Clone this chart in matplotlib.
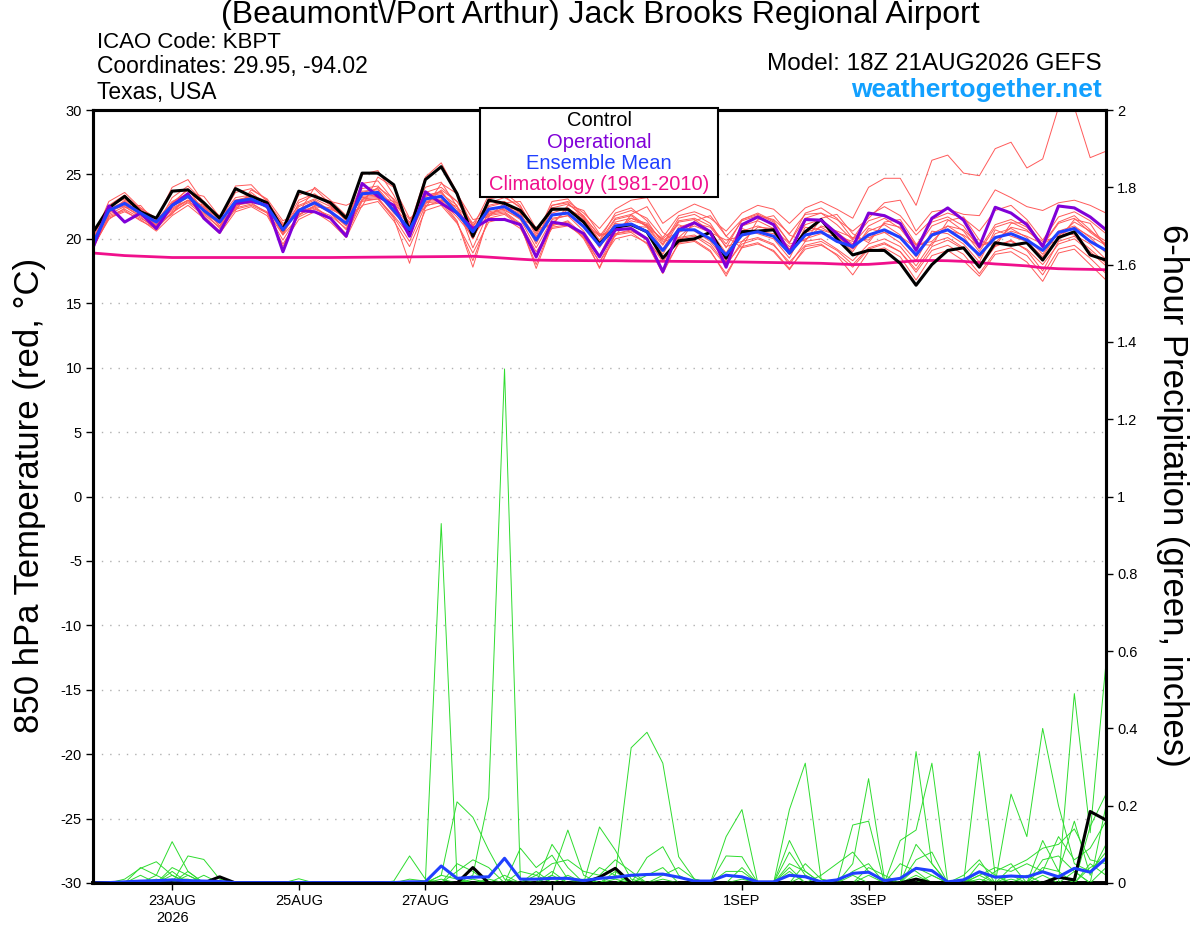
import numpy as np
import pandas as pd
import matplotlib
matplotlib.use("Agg")
import matplotlib.pyplot as plt
import matplotlib.dates as mdates
from matplotlib.patches import Rectangle

plt.rcParams['font.family'] = ['Liberation Sans', 'DejaVu Sans']
plt.rcParams['axes.unicode_minus'] = False

# 6-hourly steps from the 18Z 21 Aug 2026 run
times = pd.date_range('2026-08-21 18:00', periods=65, freq='6h')

# 850 hPa temperature (C)
ctrl_t = [20.5, 22.4, 23.3, 22.1, 21.6, 23.7, 23.8, 22.8, 21.6, 23.9, 23.3, 22.8, 20.7, 23.7, 23.3, 22.8,
          21.6, 25.1, 25.1, 24.2, 20.6, 24.6, 25.6, 23.5, 20.2, 23.0, 22.75, 22.2, 20.7, 22.3, 22.3, 21.3,
          19.6, 20.9, 21.1, 20.55, 18.5, 19.85, 20.0, 20.5, 18.5, 20.55, 20.6, 20.7, 18.9, 20.55, 21.5, 20.0,
          18.75, 19.1, 19.1, 18.1, 16.4, 18.0, 19.1, 19.3, 17.8, 19.7, 19.5, 19.7, 18.35, 20.1, 20.55, 18.75,
          18.35]
oper_t = [19.3, 22.55, 21.3, 22.0, 20.8, 22.6, 23.5, 21.6, 20.5, 22.75, 22.9, 22.6, 19.0, 22.2, 22.1, 21.6,
          20.2, 24.3, 23.3, 22.6, 20.2, 23.65, 22.75, 22.0, 20.8, 21.5, 21.5, 21.1, 18.6, 21.3, 21.1, 20.4,
          18.6, 20.7, 20.8, 20.0, 17.45, 20.7, 21.25, 20.55, 17.8, 21.1, 21.7, 21.1, 18.9, 21.5, 21.45, 20.4,
          19.35, 22.0, 21.8, 21.2, 19.1, 21.6, 22.4, 21.45, 19.4, 22.45, 22.0, 21.1, 19.4, 22.55, 22.4, 21.7,
          20.7]
mean_t = [19.65, 22.2, 22.75, 22.0, 21.3, 22.6, 23.3, 22.2, 21.3, 22.9, 23.1, 22.5, 20.7, 22.2, 22.8, 22.1,
          21.2, 23.5, 23.6, 22.2, 20.7, 23.1, 23.3, 22.0, 20.55, 22.3, 22.5, 21.7, 19.9, 21.85, 22.0, 20.95,
          19.5, 21.0, 21.15, 20.55, 19.1, 20.7, 20.7, 20.0, 18.75, 20.3, 20.55, 20.2, 18.9, 20.3, 20.55, 19.8,
          19.4, 20.3, 20.7, 20.1, 18.75, 20.3, 20.7, 19.9, 18.75, 20.1, 20.4, 19.9, 19.1, 20.5, 20.8, 19.8,
          19.1]
clim_t = [18.9, 18.8, 18.7, 18.65, 18.6, 18.55, 18.55, 18.55, 18.55, 18.55, 18.55, 18.55, 18.55, 18.55, 18.55, 18.55,
          18.56, 18.57, 18.58, 18.59, 18.6, 18.61, 18.62, 18.63, 18.65, 18.58, 18.5, 18.42, 18.35, 18.33, 18.32, 18.31,
          18.3, 18.3, 18.28, 18.27, 18.26, 18.25, 18.24, 18.23, 18.22, 18.2, 18.18, 18.16, 18.14, 18.12, 18.1, 18.05,
          18.0, 18.02, 18.1, 18.2, 18.3, 18.32, 18.3, 18.25, 18.15, 18.05, 17.98, 17.9, 17.75, 17.68, 17.65, 17.63,
          17.6]

members_t = [
    [19.8, 22.6, 23.4, 22.3, 21.0, 23.2, 24.1, 22.9, 21.5, 23.6, 23.9, 23.0, 20.9, 23.0, 23.5, 22.6,
     21.4, 24.3, 24.5, 23.0, 21.2, 24.0, 24.4, 22.5, 20.3, 23.1, 23.3, 22.4, 20.4, 22.6, 22.8, 21.6,
     19.8, 21.6, 21.9, 21.0, 19.2, 21.3, 21.5, 20.6, 18.9, 21.0, 21.4, 20.8, 19.2, 21.1, 21.5, 20.5,
     19.6, 21.0, 21.6, 20.8, 19.2, 21.0, 21.5, 20.6, 19.0, 20.9, 21.3, 20.7, 19.5, 21.2, 21.6, 20.5, 19.6],
    [19.3, 21.6, 22.1, 21.5, 20.6, 21.8, 22.6, 21.6, 20.4, 22.1, 22.5, 21.8, 19.6, 21.5, 22.1, 21.3,
     20.1, 22.6, 22.9, 21.4, 19.4, 22.2, 22.6, 21.2, 18.9, 21.3, 21.6, 20.8, 18.6, 20.9, 21.1, 20.1,
     18.2, 20.0, 20.3, 19.7, 17.6, 19.6, 19.8, 19.0, 17.3, 19.3, 19.6, 19.1, 17.7, 19.2, 19.5, 18.8,
     17.8, 19.2, 19.6, 19.0, 17.4, 19.1, 19.5, 18.8, 17.3, 19.0, 19.3, 18.7, 17.2, 19.2, 19.5, 18.5, 17.3],
    [19.7, 22.0, 23.0, 22.4, 21.6, 22.3, 23.0, 22.5, 21.0, 22.5, 23.4, 22.9, 21.2, 21.8, 22.6, 22.4,
     21.6, 23.0, 24.0, 23.1, 21.5, 22.7, 23.8, 22.9, 21.0, 21.9, 22.4, 22.3, 20.6, 21.2, 22.3, 21.7,
     20.3, 20.6, 21.6, 21.2, 19.8, 20.1, 21.2, 20.9, 19.4, 19.8, 20.9, 20.8, 19.6, 19.9, 21.0, 20.6,
     20.1, 19.9, 21.2, 20.9, 19.5, 19.8, 21.0, 20.7, 19.5, 19.7, 20.9, 20.6, 19.8, 20.2, 21.3, 20.6, 19.8],
    [19.6, 22.3, 22.9, 22.0, 21.4, 22.9, 23.5, 22.4, 21.6, 23.2, 23.4, 22.7, 21.0, 22.6, 23.1, 22.5,
     21.5, 23.9, 24.1, 22.8, 21.3, 23.6, 24.0, 22.9, 21.2, 22.8, 23.2, 22.5, 20.6, 22.4, 22.7, 21.8,
     20.2, 21.8, 22.2, 21.6, 20.1, 21.8, 22.1, 21.6, 20.6, 22.0, 22.6, 22.3, 21.2, 22.4, 22.9, 22.3,
     21.6, 24.0, 24.7, 24.7, 22.6, 26.1, 26.5, 25.1, 24.9, 27.0, 27.5, 25.5, 26.2, 30.2, 30.2, 26.3, 26.8],
    [19.9, 22.5, 23.1, 22.2, 21.1, 22.8, 23.8, 22.6, 21.2, 23.0, 23.2, 22.6, 20.5, 22.5, 23.0, 22.2,
     21.0, 23.6, 23.9, 22.5, 20.4, 23.4, 23.6, 22.3, 20.0, 22.6, 22.9, 22.0, 19.6, 22.0, 22.4, 21.2,
     19.3, 21.3, 21.6, 21.0, 19.5, 21.4, 21.6, 21.0, 19.6, 21.4, 21.8, 21.5, 20.4, 21.9, 22.0, 21.5,
     20.6, 21.6, 22.8, 23.0, 20.6, 22.1, 22.3, 21.9, 21.8, 23.8, 23.2, 22.5, 22.2, 22.8, 23.0, 22.6, 22.0],
    [19.5, 21.9, 22.5, 21.8, 21.0, 22.4, 23.0, 21.9, 20.9, 22.6, 22.8, 22.0, 19.9, 21.9, 22.5, 21.6,
     20.4, 23.1, 23.2, 21.7, 19.8, 22.6, 22.8, 21.3, 18.3, 21.6, 21.9, 21.0, 18.0, 21.1, 21.3, 20.0,
     17.8, 20.3, 20.5, 19.6, 17.3, 19.7, 19.9, 19.1, 17.1, 19.4, 19.7, 19.0, 17.6, 19.4, 19.6, 18.7,
     17.2, 19.0, 19.3, 18.6, 16.8, 18.7, 19.1, 18.3, 17.1, 18.8, 19.0, 18.2, 16.7, 18.9, 19.2, 18.0, 16.8],
    [19.4, 21.5, 22.4, 22.6, 21.2, 21.9, 23.6, 23.3, 21.7, 22.2, 23.8, 23.1, 21.4, 22.0, 24.0, 23.0,
     21.8, 22.5, 24.8, 24.0, 21.6, 22.4, 24.3, 23.5, 21.5, 21.7, 22.8, 22.9, 20.8, 21.0, 22.6, 22.2,
     20.4, 20.2, 21.9, 22.5, 20.5, 19.6, 21.4, 21.8, 20.2, 19.3, 21.5, 21.8, 20.3, 19.8, 21.6, 21.9,
     20.4, 19.7, 21.3, 21.5, 19.6, 19.5, 21.4, 21.7, 19.9, 19.4, 21.2, 21.3, 19.4, 19.9, 21.5, 21.2, 19.3],
    [20.0, 22.9, 23.6, 22.4, 21.5, 24.0, 24.6, 22.8, 21.4, 24.1, 24.2, 22.9, 20.8, 23.4, 23.9, 22.7,
     21.5, 25.0, 25.3, 23.4, 21.0, 24.8, 25.9, 23.6, 20.9, 23.4, 23.6, 22.6, 20.2, 22.9, 23.1, 21.7,
     19.9, 22.0, 22.4, 21.4, 19.6, 21.6, 21.9, 21.2, 19.3, 21.5, 21.9, 21.3, 19.7, 21.6, 22.0, 21.1,
     19.9, 21.4, 21.8, 21.1, 19.5, 21.3, 21.7, 21.0, 19.2, 21.1, 21.5, 20.9, 19.6, 21.3, 21.8, 20.7, 19.5],
    [19.2, 21.8, 22.3, 21.6, 20.9, 22.1, 22.8, 21.8, 20.6, 22.3, 22.6, 22.0, 19.4, 21.9, 22.4, 21.6,
     20.3, 22.9, 23.1, 21.6, 18.1, 22.5, 23.0, 21.4, 17.8, 21.8, 22.0, 21.1, 17.7, 21.0, 21.4, 20.3,
     17.7, 20.4, 20.6, 20.0, 18.2, 20.0, 20.2, 19.4, 17.9, 19.8, 20.1, 19.6, 18.0, 19.8, 20.0, 19.2,
     18.3, 19.6, 20.0, 19.4, 17.9, 19.7, 20.1, 19.3, 17.8, 19.5, 19.8, 19.2, 18.0, 19.6, 20.0, 19.0, 17.9],
    [19.6, 22.1, 22.6, 21.9, 21.3, 22.5, 23.2, 22.3, 21.4, 22.8, 23.0, 22.4, 20.6, 22.3, 22.7, 22.0,
     21.0, 23.4, 23.5, 22.0, 20.9, 23.0, 23.1, 21.9, 20.4, 22.2, 22.6, 21.9, 20.1, 22.2, 22.4, 21.5,
     19.6, 21.5, 21.8, 20.9, 18.8, 20.9, 21.3, 20.4, 18.5, 20.6, 21.0, 20.6, 19.0, 20.5, 20.9, 20.2,
     19.2, 20.6, 21.1, 20.3, 18.6, 20.4, 21.0, 20.2, 18.5, 20.4, 20.8, 20.1, 18.8, 20.6, 21.0, 20.1, 18.9],
    [19.8, 22.4, 22.5, 21.7, 20.7, 22.7, 23.9, 22.1, 20.8, 22.4, 23.6, 22.6, 20.3, 22.8, 23.4, 22.9,
     22.6, 23.2, 23.3, 22.9, 20.2, 23.3, 23.5, 22.6, 19.3, 22.1, 22.3, 21.5, 19.3, 21.5, 21.8, 20.6,
     18.7, 21.2, 21.0, 20.9, 20.0, 21.1, 20.6, 19.8, 18.3, 20.8, 20.4, 20.0, 18.5, 20.9, 20.7, 20.3,
     19.0, 20.8, 20.5, 19.7, 18.3, 20.6, 20.4, 19.6, 18.2, 20.7, 20.2, 19.8, 18.6, 20.6, 20.3, 19.6, 18.4],
    [19.5, 22.0, 22.9, 22.3, 21.3, 22.2, 23.0, 22.6, 21.8, 22.7, 22.9, 22.6, 21.1, 22.1, 22.5, 22.3,
     21.7, 23.3, 23.4, 22.6, 21.0, 22.9, 23.0, 22.5, 21.1, 22.0, 22.2, 21.6, 20.9, 21.6, 21.8, 21.3,
     20.2, 20.8, 21.4, 21.1, 19.9, 20.5, 21.0, 20.5, 19.9, 20.2, 20.6, 20.4, 19.4, 20.0, 20.4, 20.2,
     19.8, 20.1, 20.5, 20.2, 19.3, 20.2, 20.7, 20.3, 19.4, 20.0, 20.6, 20.2, 19.6, 20.3, 20.9, 20.2, 19.5],
    [19.7, 22.2, 22.8, 22.1, 21.0, 22.6, 23.4, 22.3, 21.0, 23.0, 23.3, 22.4, 20.4, 22.3, 22.9, 22.0,
     20.7, 23.7, 23.8, 22.3, 20.5, 23.3, 23.7, 22.1, 20.0, 22.5, 22.8, 22.0, 19.8, 22.6, 22.9, 22.0,
     20.8, 22.3, 23.0, 23.2, 21.2, 22.1, 22.7, 22.2, 20.2, 21.5, 22.0, 21.4, 19.7, 22.0, 22.4, 21.6,
     20.0, 21.8, 22.5, 21.8, 20.3, 21.5, 22.0, 21.6, 20.6, 22.2, 22.6, 21.5, 19.9, 21.7, 22.1, 21.4, 20.4],
    [19.4, 21.7, 22.2, 21.4, 20.8, 22.0, 22.9, 22.0, 21.2, 22.4, 22.7, 22.1, 20.3, 21.7, 22.3, 21.8,
     20.8, 23.0, 23.1, 21.8, 20.3, 22.8, 22.9, 21.7, 20.2, 21.9, 22.1, 21.2, 19.0, 20.8, 21.0, 20.2,
     18.2, 20.4, 20.7, 19.9, 18.4, 20.1, 20.3, 19.6, 18.0, 19.6, 20.0, 19.5, 18.2, 19.5, 19.8, 19.1,
     18.0, 19.3, 19.7, 19.0, 17.6, 19.4, 19.9, 19.2, 17.8, 19.4, 19.9, 19.1, 17.5, 19.8, 20.2, 19.2, 18.1],
]

# 6-hour precipitation (inches)
ctrl_p = [0, 0, 0, 0, 0, 0, 0, 0, 0.016, 0, 0, 0, 0, 0, 0, 0,
          0, 0, 0, 0, 0, 0, 0, 0, 0.04, 0, 0, 0, 0, 0, 0, 0,
          0.015, 0.038, 0, 0, 0, 0, 0, 0, 0, 0, 0, 0, 0, 0, 0, 0,
          0, 0, 0, 0, 0.01, 0, 0, 0, 0, 0, 0, 0, 0, 0.015, 0.008, 0.185,
          0.163]
mean_p = [0, 0.001, 0.003, 0.005, 0.006, 0.008, 0.006, 0.005, 0.004, 0.001, 0.001, 0.001, 0.001, 0.001, 0.001, 0.001,
          0.001, 0.001, 0.001, 0.001, 0.003, 0.003, 0.044, 0.012, 0.015, 0.016, 0.064, 0.01, 0.01, 0.012, 0.012, 0.006,
          0.012, 0.015, 0.02, 0.022, 0.023, 0.015, 0.005, 0.005, 0.02, 0.016, 0.003, 0.003, 0.02, 0.016, 0.003, 0.008,
          0.025, 0.028, 0.006, 0.012, 0.038, 0.032, 0.003, 0.008, 0.029, 0.015, 0.018, 0.016, 0.029, 0.016, 0.038, 0.028,
          0.064]

members_p = [
    [0, 0, 0, 0.04, 0.02, 0.107, 0.03, 0, 0, 0, 0, 0, 0, 0, 0, 0,
     0, 0, 0, 0, 0.01, 0.005, 0.93, 0.01, 0, 0, 0, 0, 0, 0.02, 0.137, 0.02,
     0, 0, 0, 0, 0, 0, 0, 0, 0.12, 0.19, 0, 0, 0, 0, 0, 0,
     0.05, 0.27, 0.01, 0, 0, 0, 0, 0, 0.02, 0, 0.23, 0.12, 0.40, 0.20, 0.05, 0.03, 0.08],
    [0, 0, 0.01, 0.038, 0.055, 0.02, 0, 0, 0, 0, 0, 0, 0, 0, 0, 0,
     0, 0, 0, 0, 0, 0, 0, 0, 0.02, 0.22, 1.33, 0.01, 0, 0, 0, 0,
     0.145, 0.085, 0.01, 0, 0, 0, 0, 0, 0, 0, 0, 0, 0.19, 0.31, 0.01, 0,
     0, 0, 0, 0, 0.34, 0.05, 0, 0, 0.34, 0.02, 0, 0, 0, 0, 0.49, 0.13, 0.57],
    [0, 0, 0, 0, 0.02, 0, 0.07, 0.061, 0.01, 0, 0, 0, 0, 0, 0, 0,
     0, 0, 0, 0, 0, 0, 0.02, 0.21, 0.17, 0.085, 0.01, 0, 0, 0, 0, 0,
     0, 0.02, 0.35, 0.39, 0.31, 0.068, 0.01, 0, 0, 0, 0, 0, 0.11, 0.03, 0, 0,
     0, 0, 0, 0.11, 0.137, 0.31, 0, 0, 0, 0.03, 0.05, 0, 0, 0, 0, 0.146, 0.23],
    [0, 0, 0, 0.02, 0, 0.04, 0.02, 0, 0, 0, 0, 0, 0, 0.011, 0, 0,
     0, 0, 0, 0.005, 0.07, 0.01, 0, 0, 0, 0, 0, 0.09, 0.04, 0.072, 0.01, 0,
     0, 0, 0, 0.066, 0.094, 0.02, 0, 0, 0.07, 0.068, 0, 0, 0, 0, 0, 0,
     0.15, 0.16, 0, 0, 0, 0, 0, 0.02, 0.06, 0, 0, 0, 0.06, 0.07, 0.03, 0, 0.2],
    [0, 0, 0, 0, 0, 0.02, 0, 0.02, 0, 0, 0, 0, 0, 0, 0, 0,
     0, 0, 0, 0, 0, 0, 0, 0.03, 0.06, 0.04, 0, 0, 0.02, 0.05, 0.06, 0.03,
     0.02, 0.06, 0.03, 0, 0, 0, 0, 0, 0, 0.04, 0, 0, 0.08, 0.02, 0, 0,
     0.03, 0.05, 0, 0, 0.06, 0.08, 0, 0, 0.03, 0, 0.04, 0.06, 0.09, 0.10, 0.14, 0.06, 0.05],
    [0, 0, 0, 0, 0.01, 0, 0.02, 0, 0, 0, 0, 0, 0, 0, 0, 0,
     0, 0, 0, 0, 0, 0, 0.01, 0, 0.04, 0, 0.02, 0, 0, 0.1, 0.04, 0,
     0, 0.03, 0, 0, 0.02, 0.04, 0.01, 0, 0, 0, 0, 0, 0.03, 0, 0.02, 0.05,
     0.08, 0.03, 0, 0.05, 0.03, 0, 0, 0, 0.02, 0.04, 0.03, 0.05, 0.03, 0.12, 0.06, 0.09, 0.16],
    [0, 0, 0, 0, 0, 0.03, 0, 0, 0, 0, 0, 0, 0, 0, 0, 0,
     0, 0, 0, 0, 0, 0, 0, 0, 0, 0.01, 0, 0.03, 0.02, 0, 0, 0,
     0.04, 0.02, 0, 0, 0, 0, 0, 0, 0.03, 0.03, 0, 0, 0.05, 0.03, 0, 0,
     0, 0, 0, 0, 0.10, 0.05, 0, 0, 0.05, 0.02, 0, 0, 0.04, 0.03, 0, 0.05, 0.02],
    [0, 0, 0, 0, 0, 0, 0.03, 0, 0, 0, 0, 0, 0, 0, 0, 0,
     0, 0, 0, 0, 0, 0, 0, 0.05, 0.03, 0, 0, 0, 0, 0.03, 0, 0.01,
     0, 0, 0, 0.02, 0.04, 0, 0, 0, 0, 0, 0, 0, 0, 0.05, 0.01, 0,
     0, 0.04, 0.02, 0, 0, 0.02, 0, 0.01, 0, 0, 0.02, 0, 0.11, 0.03, 0.16, 0.02, 0.1],
    [0, 0, 0, 0, 0.005, 0, 0, 0, 0, 0, 0, 0, 0, 0, 0, 0,
     0, 0, 0, 0, 0, 0, 0.02, 0.01, 0, 0, 0, 0, 0.03, 0, 0.02, 0,
     0, 0, 0.02, 0, 0, 0, 0, 0, 0, 0.01, 0, 0, 0.04, 0, 0, 0,
     0.02, 0, 0, 0, 0.04, 0.02, 0, 0, 0, 0, 0.01, 0, 0.02, 0, 0.03, 0, 0.04],
    [0, 0, 0, 0, 0, 0.01, 0.01, 0, 0, 0, 0, 0, 0, 0, 0, 0,
     0, 0, 0, 0, 0, 0, 0, 0, 0.01, 0, 0, 0, 0, 0.02, 0, 0,
     0, 0.01, 0, 0, 0.01, 0, 0, 0, 0, 0, 0, 0, 0, 0.02, 0, 0,
     0, 0.02, 0, 0, 0.02, 0, 0, 0, 0.01, 0, 0, 0.02, 0, 0.02, 0, 0.04, 0.06],
]

tick_dates = ['2026-08-23', '2026-08-25', '2026-08-27', '2026-08-29', '2026-09-01', '2026-09-03', '2026-09-05']
tick_labels = ['23AUG\n2026', '25AUG', '27AUG', '29AUG', '1SEP', '3SEP', '5SEP']
temp_ticks = list(range(-30, 31, 5))
precip_ticks = [0, 0.2, 0.4, 0.6, 0.8, 1.0, 1.2, 1.4, 1.6, 1.8, 2.0]

for s in [ctrl_t, oper_t, mean_t, clim_t, ctrl_p, mean_p] + members_t + members_p:
    assert len(s) == len(times), len(s)

x = mdates.date2num(times.to_pydatetime())

fig = plt.figure(figsize=(12, 9.27), dpi=100)
ax = fig.add_axes([93 / 1200, 44 / 927, 1013 / 1200, 773 / 927])
ax2 = ax.twinx()

# temperature
for m in members_t:
    ax.plot(x, m, color='#ff5a5a', lw=0.7)
ax.plot(x, clim_t, color='#f0108c', lw=2.0)
ax.plot(x, ctrl_t, color='black', lw=2.2)
ax.plot(x, oper_t, color='#8000d8', lw=2.2)
ax.plot(x, mean_t, color='#2040ff', lw=2.2)

# precipitation
for m in members_p:
    ax2.plot(x, m, color='#2edc2e', lw=0.7)
ax2.plot(x, ctrl_p, color='black', lw=2.2)
ax2.plot(x, mean_p, color='#2040ff', lw=2.2)

ax.set_xlim(x[0], x[-1])
ax.set_ylim(-30, 30)
ax2.set_ylim(0, 2)

ax.set_yticks(temp_ticks)
ax.set_yticklabels([str(t) for t in temp_ticks])
ax2.set_yticks(precip_ticks)
ax2.set_yticklabels(['%g' % p for p in precip_ticks])
ax.set_xticks(mdates.date2num(pd.to_datetime(tick_dates).to_pydatetime()))
ax.set_xticklabels(tick_labels, linespacing=1.25)

ax.yaxis.grid(True, color='#b0b0b0', linestyle=(0, (1, 5)), lw=1)
ax.set_axisbelow(True)
for a in (ax, ax2):
    a.tick_params(direction='out', length=5, width=1, labelsize=10.5, pad=3)
    for sp in a.spines.values():
        sp.set_linewidth(2.2)
ax.spines['bottom'].set_linewidth(2.8)

# header
fig.text(0.5, 1 - 15 / 927, '(Beaumont\\/Port Arthur) Jack Brooks Regional Airport',
         ha='center', va='center', fontsize=23)
fig.text(97 / 1200, 1 - 42 / 927, 'ICAO Code: KBPT', ha='left', va='center', fontsize=16)
fig.text(97 / 1200, 1 - 67 / 927, 'Coordinates: 29.95, -94.02', ha='left', va='center', fontsize=16.5)
fig.text(97 / 1200, 1 - 93 / 927, 'Texas, USA', ha='left', va='center', fontsize=16.5)
fig.text(1102 / 1200, 1 - 64 / 927, 'Model: 18Z 21AUG2026 GEFS', ha='right', va='center', fontsize=17.5)
fig.text(1102 / 1200, 1 - 90 / 927, 'weathertogether.net', ha='right', va='center', fontsize=19,
         fontweight='bold', color='#12a0ff')

fig.text(30 / 1200, 1 - 495 / 927, '850 hPa Temperature (red, °C)', rotation=90,
         ha='center', va='center', fontsize=25)
fig.text(1172 / 1200, 1 - 495 / 927, '6-hour Precipitation (green, inches)', rotation=-90,
         ha='center', va='center', fontsize=25)

# legend box
fig.add_artist(Rectangle((480 / 1200, 1 - 197 / 927), 238 / 1200, 89 / 927, transform=fig.transFigure,
                         facecolor='white', edgecolor='black', lw=1.5, zorder=5))
legend_items = [('Control', 'black'), ('Operational', '#8000d8'),
                ('Ensemble Mean', '#2040ff'), ('Climatology (1981-2010)', '#f0108c')]
for k, (txt, col) in enumerate(legend_items):
    fig.text(599 / 1200, 1 - (121 + 21.3 * k) / 927, txt, ha='center', va='center',
             fontsize=14.5, color=col, zorder=6)

fig.savefig('out.png', dpi=100)
